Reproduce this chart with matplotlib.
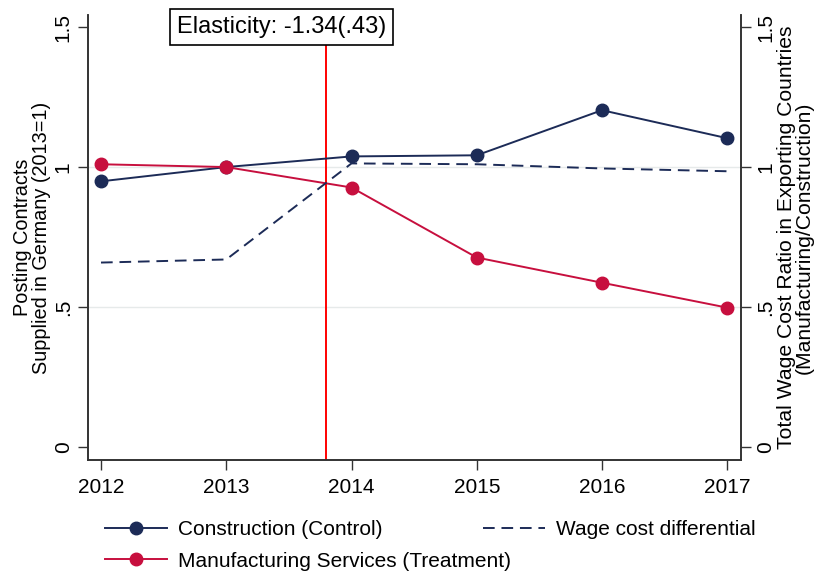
import matplotlib
matplotlib.use("Agg")
import matplotlib.pyplot as plt

plt.rcParams["font.family"] = ["Liberation Sans", "DejaVu Sans"]

# Data
years = [2012, 2013, 2014, 2015, 2016, 2017]
construction = [0.949, 1.0, 1.038, 1.042, 1.203, 1.103]
manufacturing = [1.01, 1.0, 0.927, 0.677, 0.587, 0.498]
wage_cost = [0.659, 0.670, 1.013, 1.010, 0.995, 0.985]
policy_year = 2013.8
y_ticks = [0, 0.5, 1, 1.5]
y_tick_labels = ["0", ".5", "1", "1.5"]

navy = "#1c2b57"
cranberry = "#c70f3e"

fig = plt.figure(figsize=(8.2, 5.74), dpi=100)
ax = fig.add_axes([0.1073, 0.1986, 0.7964, 0.7753])
ax2 = ax.twinx()

# faint grid lines
for yv in [0.5, 1.0]:
    ax.axhline(yv, color="#e6eaea", lw=1.0, zorder=0)

l1, = ax.plot(years, construction, color=navy, lw=1.4, marker="o", ms=9,
              label="Construction (Control)", zorder=3)
l2, = ax.plot(years, manufacturing, color=cranberry, lw=1.4, marker="o", ms=9,
              label="Manufacturing Services (Treatment)", zorder=3)
l3, = ax2.plot(years, wage_cost, color=navy, lw=1.4, ls=(0, (6, 3.5)),
               label="Wage cost differential")
ax.axvline(policy_year, color="#ff0000", lw=1.4, zorder=2)

ax.text(2013.44, 1.5, "Elasticity: -1.34(.43)", fontsize=17, ha="center", va="center",
        bbox=dict(boxstyle="square,pad=0.3", fc="white", ec="black", lw=1.2), zorder=5)

for a in (ax, ax2):
    a.set_ylim(-0.046, 1.543)
    a.set_yticks(y_ticks)
    a.set_yticklabels(y_tick_labels, rotation=90, va="center", fontsize=15)
    a.spines["top"].set_visible(False)
    for s in a.spines.values():
        s.set_color("#333333")
        s.set_linewidth(1.2)
    a.tick_params(length=7, width=1.0, color="#333333")

ax.set_xlim(2011.896, 2017.11)
ax.set_xticks(years)
ax.set_xticklabels([str(y) for y in years], fontsize=15)
ax.tick_params(axis="x", pad=6)
ax.tick_params(axis="y", pad=4)
ax2.tick_params(axis="y", pad=4)

ax.set_ylabel("Posting Contracts\nSupplied in Germany (2013=1)", fontsize=14.3,
              labelpad=2, linespacing=1.0)
ax2.set_ylabel("Total Wage Cost Ratio in Exporting Countries\n(Manufacturing/Construction)",
               fontsize=15.2, labelpad=1, rotation=90, linespacing=0.95)

leg_kw = dict(frameon=False, fontsize=15, handlelength=3.0, handletextpad=0.5,
              labelspacing=0.6, borderaxespad=0, borderpad=0)
fig.legend(handles=[l1, l2], loc="upper left", bbox_to_anchor=(0.128, 0.094), **leg_kw)
fig.legend(handles=[l3], loc="upper left", bbox_to_anchor=(0.589, 0.094), **leg_kw)

fig.savefig("out.png", dpi=100)
